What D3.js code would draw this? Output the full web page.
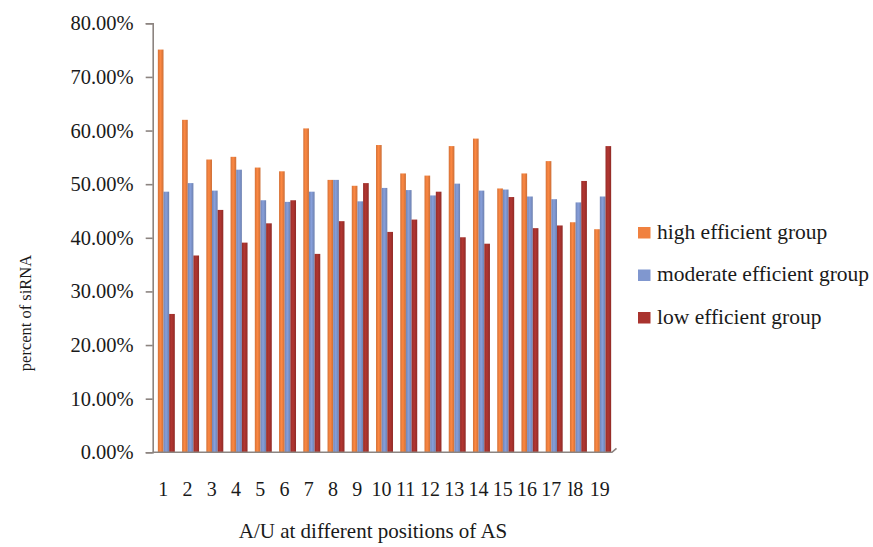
<!DOCTYPE html>
<html>
<head>
<meta charset="utf-8">
<script src="https://cdn.jsdelivr.net/npm/d3@7"></script>
<style>
  body { margin: 0; background: #fff; }
  svg text { font-family: "Liberation Serif", "DejaVu Serif", serif !important; fill: #1a1a1a; }
</style>
</head>
<body>
<div id="chart"></div>
<script>
// --------------------------------------
//  Data
// --------------------------------------

const positions = ["1","2","3","4","5","6","7","8","9","10","11","12","13","14","15","16","17","l8","19"];
const seriesNames = ["high efficient group", "moderate efficient group", "low efficient group"];
const seriesColors = ["#f0813f", "#8097cf", "#a9332e"];

const highGroup     = [75.1, 62.0, 54.6, 55.1, 53.1, 52.4, 60.4, 50.8, 49.7, 57.3, 52.0, 51.6, 57.1, 58.5, 49.2, 52.0, 54.3, 42.9, 41.6];
const moderateGroup = [48.6, 50.2, 48.8, 52.7, 47.0, 46.7, 48.6, 50.8, 46.8, 49.3, 48.9, 47.9, 50.1, 48.8, 49.0, 47.7, 47.2, 46.6, 47.7];
const lowGroup      = [25.8, 36.7, 45.2, 39.1, 42.7, 47.0, 37.0, 43.1, 50.2, 41.1, 43.4, 48.6, 40.1, 38.9, 47.6, 41.8, 42.3, 50.6, 57.1];

const yTicks = [0, 0.1, 0.2, 0.3, 0.4, 0.5, 0.6, 0.7, 0.8];

const table = positions.map((p, i) => ({
  pos: p,
  values: [highGroup[i], moderateGroup[i], lowGroup[i]].map((v, k) => ({ k, v: v / 100 }))
}));

// --------------------------------------
//  Canvas
// --------------------------------------

const width = 873;
const height = 547;
const serif = '"Liberation Serif", "DejaVu Serif", serif';

const svg = d3.select("#chart")
  .append("svg")
    .attr("width", width)
    .attr("height", height)
    .attr("font-family", serif);

// --------------------------------------
//  Scales
// --------------------------------------

const x = d3.scaleBand()
    .domain(positions)
    .range([153, 616])
    .paddingInner(0.3)
    .paddingOuter(0.2);

const xSub = d3.scaleBand()
    .domain(d3.range(seriesNames.length))
    .range([0, x.bandwidth()]);

const y = d3.scaleLinear()
    .domain([0, 0.8])
    .range([452.3, 23.3]);

// cylinder-ish shading for each series
const defs = svg.append("defs");
seriesColors.forEach((c, k) => {
  const g = defs.append("linearGradient")
      .attr("id", "grad" + k)
      .attr("x1", "0%").attr("x2", "100%");
  g.append("stop").attr("offset", "0%").attr("stop-color", d3.color(c).darker(0.35));
  g.append("stop").attr("offset", "45%").attr("stop-color", d3.color(c).brighter(0.15));
  g.append("stop").attr("offset", "100%").attr("stop-color", d3.color(c).darker(0.45));
});

// --------------------------------------
//  Bars
// --------------------------------------

svg.append("g")
  .selectAll("g")
  .data(table)
  .join("g")
    .attr("transform", d => `translate(${x(d.pos)},0)`)
  .selectAll("rect")
  .data(d => d.values)
  .join("rect")
    .attr("x", d => xSub(d.k))
    .attr("y", d => y(d.v))
    .attr("width", xSub.bandwidth())
    .attr("height", d => y(0) - y(d.v))
    .attr("fill", d => `url(#grad${d.k})`);

// --------------------------------------
//  Axes
// --------------------------------------

const axisColor = "#8c8480";

svg.append("g")
    .attr("transform", `translate(152.7,0)`)
    .call(d3.axisLeft(y)
      .tickValues(yTicks)
      .tickSize(7)
      .tickPadding(12)
      .tickFormat(d3.format(".2%")))
    .attr("font-family", serif)
    .call(g => g.selectAll("text").style("font-size", "20.5px").attr("fill", "#1a1a1a"))
    .call(g => g.selectAll("line, path").attr("stroke", axisColor).attr("stroke-width", 1.6));

// floor line with the small 3D slant at the right
svg.append("path")
    .attr("d", d3.line()([[152.7, y(0)], [612, y(0)], [616.5, y(0) - 4]]))
    .attr("fill", "none")
    .attr("stroke", axisColor)
    .attr("stroke-width", 1.6);

svg.append("g")
    .attr("transform", `translate(-3,${y(0)})`)
    .call(d3.axisBottom(x).tickSize(0).tickPadding(30))
    .attr("font-family", serif)
    .call(g => g.select(".domain").remove())
    .call(g => g.selectAll("text").style("font-size", "20px").attr("fill", "#1a1a1a"));

// --------------------------------------
//  Axis titles
// --------------------------------------

svg.append("text")
    .attr("x", 373)
    .attr("y", 538)
    .attr("text-anchor", "middle")
    .style("font-size", "21px")
    .text("A/U at different positions of AS");

svg.append("text")
    .attr("transform", "translate(31,313) rotate(-90)")
    .attr("text-anchor", "middle")
    .style("font-size", "16.5px")
    .text("percent of siRNA");

// --------------------------------------
//  Legend
// --------------------------------------

const legend = svg.append("g")
    .selectAll("g")
    .data(seriesNames)
    .join("g")
      .attr("transform", (d, i) => `translate(638,${238.5 + i * 42.5})`);

legend.append("rect")
    .attr("x", 0)
    .attr("y", -11.5)
    .attr("width", 12.5)
    .attr("height", 11.5)
    .attr("fill", (d, i) => seriesColors[i]);

legend.append("text")
    .attr("x", 19)
    .attr("y", 0)
    .style("font-size", "21.5px")
    .text(d => d);
</script>
</body>
</html>
